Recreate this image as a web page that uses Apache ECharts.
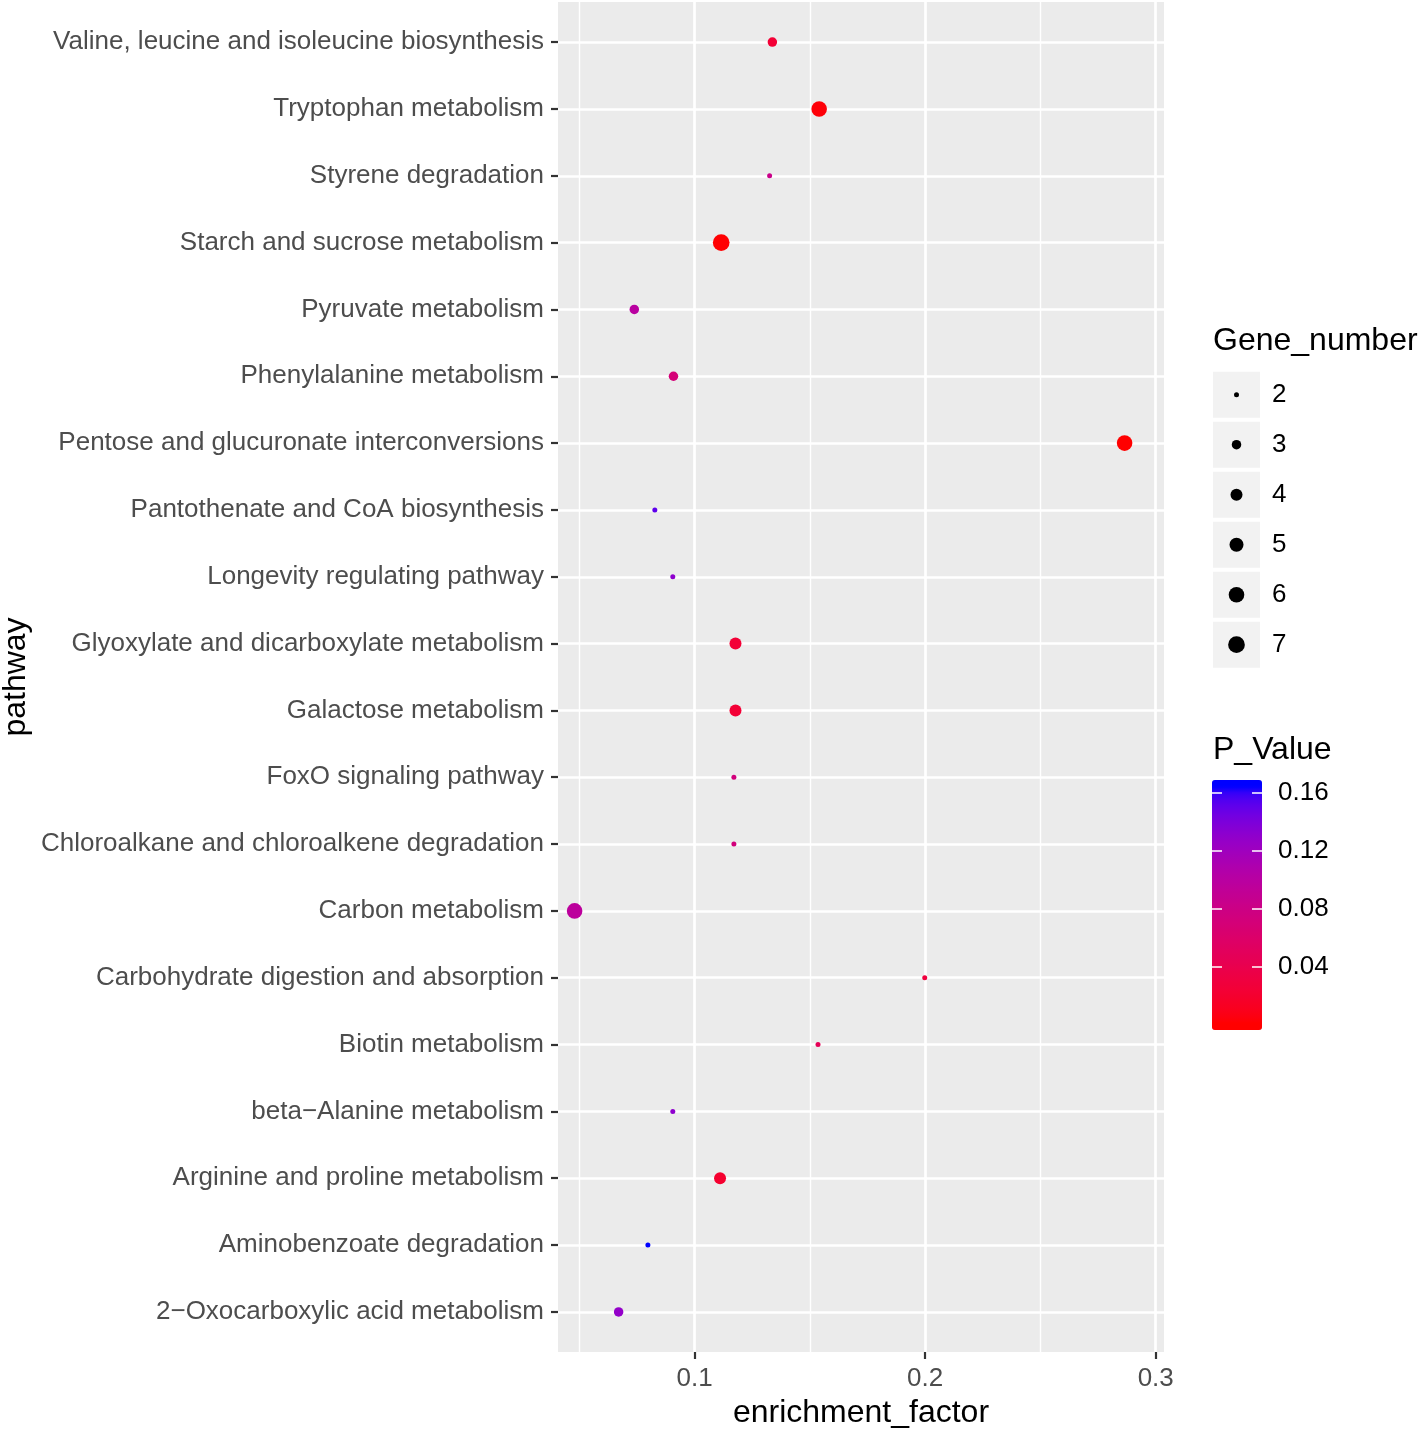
<!DOCTYPE html>
<html>
<head>
<meta charset="utf-8">
<script src="https://cdn.jsdelivr.net/npm/echarts@6/dist/echarts.min.js"></script>
<style>html,body{margin:0;padding:0;background:#fff}#c{width:1418px;height:1432px}</style>
</head>
<body>
<div id="c"></div>
<script>
// ---- data (top of plot first) ----
const pathways = [
  "Valine, leucine and isoleucine biosynthesis",
  "Tryptophan metabolism",
  "Styrene degradation",
  "Starch and sucrose metabolism",
  "Pyruvate metabolism",
  "Phenylalanine metabolism",
  "Pentose and glucuronate interconversions",
  "Pantothenate and CoA biosynthesis",
  "Longevity regulating pathway",
  "Glyoxylate and dicarboxylate metabolism",
  "Galactose metabolism",
  "FoxO signaling pathway",
  "Chloroalkane and chloroalkene degradation",
  "Carbon metabolism",
  "Carbohydrate digestion and absorption",
  "Biotin metabolism",
  "beta\u2212Alanine metabolism",
  "Arginine and proline metabolism",
  "Aminobenzoate degradation",
  "2\u2212Oxocarboxylic acid metabolism"
];
const enrichmentFactor = [0.1337, 0.1540, 0.1325, 0.1115, 0.0738, 0.0908, 0.2865, 0.0827, 0.0905, 0.1177,
                          0.1177, 0.1170, 0.1170, 0.0479, 0.1998, 0.1535, 0.0905, 0.1110, 0.0797, 0.0670];
const geneNumber = [3, 6, 2, 7, 3, 3, 6, 2, 2, 4,
                    4, 2, 2, 6, 2, 2, 2, 4, 2, 3];
const pValue = [0.024, 0.003, 0.083, 0.0015, 0.099, 0.070, 0.0007, 0.151, 0.131, 0.024,
                0.024, 0.073, 0.073, 0.096, 0.029, 0.046, 0.131, 0.020, 0.1644, 0.128];
const xTicks = [0.1, 0.2, 0.3];
const xMinorTicks = [0.05, 0.15, 0.25];
const geneLegend = [2, 3, 4, 5, 6, 7];
const pTicks = [0.04, 0.08, 0.12, 0.16];

// ---- styling helpers ----
const FONT = "'Liberation Sans', Arial, Helvetica, sans-serif";
const sizeTable = {2: 5, 3: 9.5, 4: 12, 5: 14, 6: 15.6, 7: 16.7};
function sizeOf(g) { return sizeTable[g]; }

function s2l(c){c/=255;return c<=0.04045?c/12.92:Math.pow((c+0.055)/1.055,2.4);}
function l2s(c){c=Math.max(0,Math.min(1,c));return Math.round(255*(c<=0.0031308?12.92*c:1.055*Math.pow(c,1/2.4)-0.055));}
function rgb2lab(rgb){
  const r=s2l(rgb[0]),g=s2l(rgb[1]),b=s2l(rgb[2]);
  const X=(0.4124*r+0.3576*g+0.1805*b)/0.95047,Y=0.2126*r+0.7152*g+0.0722*b,Z=(0.0193*r+0.1192*g+0.9505*b)/1.08883;
  const f=t=>t>0.008856?Math.cbrt(t):7.787*t+16/116;
  const fx=f(X),fy=f(Y),fz=f(Z);
  return [116*fy-16,500*(fx-fy),200*(fy-fz)];
}
function lab2hex(lab){
  const fy=(lab[0]+16)/116,fx=fy+lab[1]/500,fz=fy-lab[2]/200;
  const fi=t=>t*t*t>0.008856?t*t*t:(t-16/116)/7.787;
  const X=0.95047*fi(fx),Y=fi(fy),Z=1.08883*fi(fz);
  const r=3.2406*X-1.5372*Y-0.4986*Z,g=-0.9689*X+1.8758*Y+0.0415*Z,b=0.0557*X-0.2040*Y+1.0570*Z;
  return '#'+[l2s(r),l2s(g),l2s(b)].map(v=>v.toString(16).padStart(2,'0')).join('');
}
const labLow = rgb2lab([255,0,0]), labHigh = rgb2lab([0,0,255]);
const gradColors = [];
for (let i = 0; i <= 38; i++) {
  const t = Math.max(0, Math.min(1, (i - 1) / 36));
  gradColors.push(lab2hex([0,1,2].map(k => labLow[k] + (labHigh[k]-labLow[k])*t)));
}
const pMin = Math.min(...pValue), pMax = Math.max(...pValue);
const halfBin = (pMax - pMin) / 38;
const vmMin = pMin - halfBin, vmMax = pMax + halfBin;

const mainData = pathways.map((n, i) => [enrichmentFactor[i], i, pValue[i], geneNumber[i]]);

const chart = echarts.init(document.getElementById('c'), null, {renderer: 'canvas'});
chart.setOption({
  animation: false,
  backgroundColor: '#ffffff',
  textStyle: {fontFamily: FONT},
  title: [
    {text: 'Gene_number', left: 1213, top: 325, padding: 0,
     textStyle: {fontSize: 32, fontWeight: 'normal', color: '#000', fontFamily: FONT, lineHeight: 32}},
    {text: 'P_Value', left: 1213, top: 734, padding: 0,
     textStyle: {fontSize: 32, fontWeight: 'normal', color: '#000', fontFamily: FONT, lineHeight: 32}}
  ],
  grid: [
    {left: 558, top: 2, width: 606, height: 1350, show: true, backgroundColor: '#EBEBEB', borderWidth: 0, containLabel: false, outerBoundsMode: 'none'},
    {left: 1213, top: 369.7, width: 47, height: 300, show: false, containLabel: false, outerBoundsMode: 'none'},
    {left: 1212, top: 780, width: 50, height: 250, show: false, containLabel: false, outerBoundsMode: 'none'}
  ],
  xAxis: [
    {gridIndex: 0, type: 'value', min: 0.0407, max: 0.3036, position: 'bottom',
     axisLine: {show: false, onZero: false},
     axisTick: {show: true, length: 7, lineStyle: {color: '#333333', width: 2.2}, customValues: xTicks},
     axisLabel: {customValues: xTicks, fontSize: 26, color: '#4D4D4D', margin: 14, fontFamily: FONT,
                 formatter: v => String(Math.round(v * 10) / 10)},
     splitLine: {show: true, lineStyle: {color: '#FFFFFF', width: 2.7}},
     name: 'enrichment_factor', nameLocation: 'middle', nameGap: 44,
     nameTextStyle: {fontSize: 32, color: '#000', fontFamily: FONT}},
    {gridIndex: 1, type: 'value', min: 0, max: 1, show: false},
    {gridIndex: 2, type: 'value', min: 0, max: 1, show: false}
  ],
  yAxis: [
    {gridIndex: 0, type: 'value', inverse: true, min: -0.6, max: 19.6,
     axisLine: {show: false, onZero: false},
     axisTick: {show: true, length: 7, lineStyle: {color: '#333333', width: 2.2}, customValues: pathways.map((_, i) => i)},
     axisLabel: {customValues: pathways.map((_, i) => i), fontSize: 26, color: '#4D4D4D', margin: 14, fontFamily: FONT,
                 formatter: v => pathways[Math.round(v)]},
     splitLine: {show: true, lineStyle: {color: '#FFFFFF', width: 2.7}},
     name: 'pathway', nameLocation: 'middle', nameGap: 526, nameRotate: 90,
     nameTextStyle: {fontSize: 32, color: '#000', fontFamily: FONT}},
    {gridIndex: 1, type: 'category', inverse: true, position: 'right',
     data: geneLegend.map(String),
     axisLine: {show: false}, axisTick: {show: false}, splitLine: {show: false},
     axisLabel: {fontSize: 26, color: '#000', margin: 12, fontFamily: FONT}},
    {gridIndex: 2, type: 'value', min: vmMin, max: vmMax, position: 'left', z: 10,
     axisLine: {show: false, onZero: false}, splitLine: {show: false}, axisLabel: {show: false},
     axisTick: {show: true, inside: true, length: 10, lineStyle: {color: '#FFFFFF', width: 1.5}, customValues: pTicks}},
    {gridIndex: 2, type: 'value', min: vmMin, max: vmMax, position: 'right', z: 10,
     axisLine: {show: false, onZero: false}, splitLine: {show: false},
     axisTick: {show: true, inside: true, length: 10, lineStyle: {color: '#FFFFFF', width: 1.5}, customValues: pTicks},
     axisLabel: {customValues: pTicks, fontSize: 26, color: '#000', margin: 16, fontFamily: FONT,
                 formatter: v => v.toFixed(2)}}
  ],
  visualMap: [{
    type: 'continuous', seriesIndex: 0, dimension: 2,
    min: vmMin, max: vmMax, calculable: false, hoverLink: false,
    inRange: {color: gradColors},
    orient: 'vertical', left: 1212, top: 780, itemWidth: 50, itemHeight: 250,
    padding: 0, text: null, showLabel: false, z: 4
  }],
  series: [
    {type: 'scatter', name: 'main', xAxisIndex: 0, yAxisIndex: 0, z: 5,
     data: mainData, symbol: 'circle', symbolSize: d => sizeOf(d[3]),
     itemStyle: {opacity: 1}, silent: true},
    {type: 'scatter', name: 'minorGrid', xAxisIndex: 0, yAxisIndex: 0, z: 1, data: [],
     markLine: {silent: true, symbol: 'none', label: {show: false}, animation: false,
                lineStyle: {color: '#FFFFFF', width: 1.4, type: 'solid'},
                emphasis: {disabled: true},
                data: xMinorTicks.map(v => ({xAxis: v}))}},
    {type: 'scatter', name: 'sizeKeys', xAxisIndex: 1, yAxisIndex: 1, z: 2, silent: true,
     data: geneLegend.map(g => [0.5, String(g)]), symbol: 'rect', symbolSize: [47, 46],
     itemStyle: {color: '#F2F2F2', opacity: 1}},
    {type: 'scatter', name: 'sizeDots', xAxisIndex: 1, yAxisIndex: 1, z: 3, silent: true,
     data: geneLegend.map(g => [0.5, String(g), g]), symbol: 'circle', symbolSize: d => sizeOf(d[2]),
     itemStyle: {color: '#000000', opacity: 1}}
  ]
});
</script>
</body>
</html>
